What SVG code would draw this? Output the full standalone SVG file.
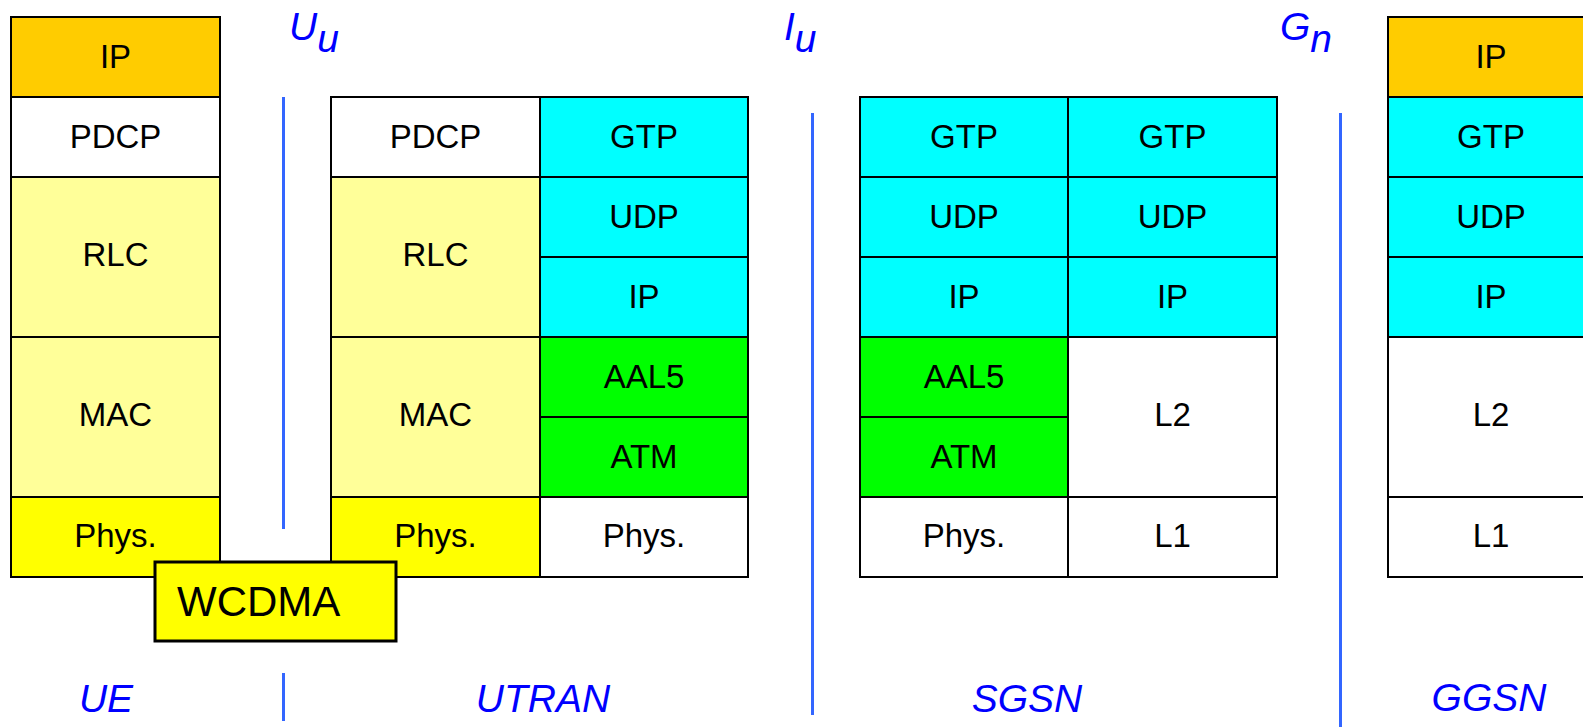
<svg xmlns="http://www.w3.org/2000/svg" width="1583" height="727" viewBox="0 0 1583 727">
<style>
.c{stroke:#000;stroke-width:2}
.ip{fill:#FFCC00}.w{fill:#FFFFFF}.ly{fill:#FFFF99}.y{fill:#FFFF00}.cy{fill:#00FFFF}.g{fill:#00FF00}
.t{font-family:"Liberation Sans",Arial,sans-serif;font-size:33px;fill:#000;text-anchor:middle}
.lab{font-family:"Liberation Sans",Arial,sans-serif;font-style:italic;font-size:39px;fill:#0000FF}
.n{text-anchor:middle}
.sep{stroke:#3366FF;stroke-width:3;fill:none}
</style>
<rect width="1583" height="727" fill="#fff"/>
<g id="connectors">
<line class="sep" x1="283.5" y1="97" x2="283.5" y2="529"/>
<line class="sep" x1="283.5" y1="673" x2="283.5" y2="721"/>
<line class="sep" x1="812.5" y1="113" x2="812.5" y2="715"/>
<line class="sep" x1="1340.5" y1="113" x2="1340.5" y2="727"/>
</g>
<g id="interfaces">
<text class="lab" x="289" y="40">U<tspan dy="12">u</tspan></text>
<text class="lab" x="784" y="40">I<tspan dy="12">u</tspan></text>
<text class="lab" x="1280" y="40">G<tspan dy="12">n</tspan></text>
</g>
<g id="ue">
<rect class="c ip" x="11" y="17" width="209" height="80"/><text class="t" x="115.5" y="68">IP</text>
<rect class="c w" x="11" y="97" width="209" height="80"/><text class="t" x="115.5" y="148">PDCP</text>
<rect class="c ly" x="11" y="177" width="209" height="160"/><text class="t" x="115.5" y="266">RLC</text>
<rect class="c ly" x="11" y="337" width="209" height="160"/><text class="t" x="115.5" y="426">MAC</text>
<rect class="c y" x="11" y="497" width="209" height="80"/><text class="t" x="115.5" y="547">Phys.</text>
</g>
<g id="utran">
<rect class="c w" x="331" y="97" width="209" height="80"/><text class="t" x="435.5" y="148">PDCP</text>
<rect class="c ly" x="331" y="177" width="209" height="160"/><text class="t" x="435.5" y="266">RLC</text>
<rect class="c ly" x="331" y="337" width="209" height="160"/><text class="t" x="435.5" y="426">MAC</text>
<rect class="c y" x="331" y="497" width="209" height="80"/><text class="t" x="435.5" y="547">Phys.</text>
<rect class="c cy" x="540" y="97" width="208" height="80"/><text class="t" x="644" y="148">GTP</text>
<rect class="c cy" x="540" y="177" width="208" height="80"/><text class="t" x="644" y="228">UDP</text>
<rect class="c cy" x="540" y="257" width="208" height="80"/><text class="t" x="644" y="308">IP</text>
<rect class="c g" x="540" y="337" width="208" height="80"/><text class="t" x="644" y="388">AAL5</text>
<rect class="c g" x="540" y="417" width="208" height="80"/><text class="t" x="644" y="468">ATM</text>
<rect class="c w" x="540" y="497" width="208" height="80"/><text class="t" x="644" y="547">Phys.</text>
</g>
<g id="wcdma">
<rect x="155" y="562" width="241" height="79" fill="#FFFF00" stroke="#000" stroke-width="3"/>
<text x="177" y="616" font-family="Liberation Sans,Arial,sans-serif" font-size="42" fill="#000">WCDMA</text>
</g>
<g id="sgsn">
<rect class="c cy" x="860" y="97" width="208" height="80"/><text class="t" x="964" y="148">GTP</text>
<rect class="c cy" x="860" y="177" width="208" height="80"/><text class="t" x="964" y="228">UDP</text>
<rect class="c cy" x="860" y="257" width="208" height="80"/><text class="t" x="964" y="308">IP</text>
<rect class="c g" x="860" y="337" width="208" height="80"/><text class="t" x="964" y="388">AAL5</text>
<rect class="c g" x="860" y="417" width="208" height="80"/><text class="t" x="964" y="468">ATM</text>
<rect class="c w" x="860" y="497" width="208" height="80"/><text class="t" x="964" y="547">Phys.</text>
<rect class="c cy" x="1068" y="97" width="209" height="80"/><text class="t" x="1172.5" y="148">GTP</text>
<rect class="c cy" x="1068" y="177" width="209" height="80"/><text class="t" x="1172.5" y="228">UDP</text>
<rect class="c cy" x="1068" y="257" width="209" height="80"/><text class="t" x="1172.5" y="308">IP</text>
<rect class="c w" x="1068" y="337" width="209" height="160"/><text class="t" x="1172.5" y="426">L2</text>
<rect class="c w" x="1068" y="497" width="209" height="80"/><text class="t" x="1172.5" y="547">L1</text>
</g>
<g id="ggsn">
<rect class="c ip" x="1388" y="17" width="208" height="80"/><text class="t" x="1491" y="68">IP</text>
<rect class="c cy" x="1388" y="97" width="208" height="80"/><text class="t" x="1491" y="148">GTP</text>
<rect class="c cy" x="1388" y="177" width="208" height="80"/><text class="t" x="1491" y="228">UDP</text>
<rect class="c cy" x="1388" y="257" width="208" height="80"/><text class="t" x="1491" y="308">IP</text>
<rect class="c w" x="1388" y="337" width="208" height="160"/><text class="t" x="1491" y="426">L2</text>
<rect class="c w" x="1388" y="497" width="208" height="80"/><text class="t" x="1491" y="547">L1</text>
</g>
<g id="node-labels">
<text class="lab n" x="106" y="712">UE</text>
<text class="lab n" x="543" y="712">UTRAN</text>
<text class="lab n" x="1027" y="712">SGSN</text>
<text class="lab n" x="1489" y="711">GGSN</text>
</g>
</svg>
